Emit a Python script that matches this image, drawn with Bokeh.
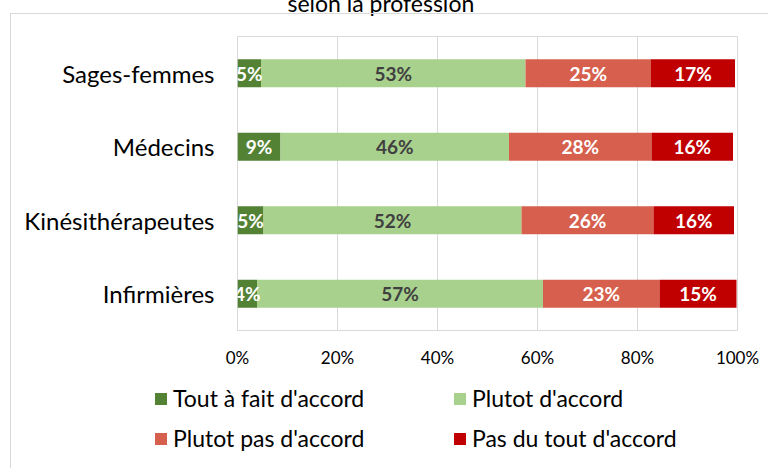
from bokeh.plotting import figure
from bokeh.layouts import column
from bokeh.models import (ColumnDataSource, FactorRange, Range1d, Legend, LegendItem,
                          FixedTicker, PrintfTickFormatter, InlineStyleSheet)
from bokeh.core.properties import value
from bokeh.embed import file_html
from bokeh.resources import INLINE

# ---- data (bottom to top) ----
professions = ["Infirmières", "Kinésithérapeutes", "Médecins", "Sages-femmes"]
series_names = ["Tout à fait d'accord", "Plutot d'accord", "Plutot pas d'accord", "Pas du tout d'accord"]
tout_a_fait = [3.9, 5.2, 8.6, 4.7]
plutot = [57.2, 51.6, 45.7, 52.9]
plutot_pas = [23.3, 26.4, 28.5, 25.1]
pas_du_tout = [15.4, 16.1, 16.3, 16.8]
x_ticks = [0, 20, 40, 60, 80, 100]
title_text = "selon la profession"

colors = ["#548235", "#A9D18E", "#D6604D", "#C00000"]
label_colors = ["#FFFFFF", "#404040", "#FFFFFF", "#FFFFFF"]
FONT = "Lato"

keys = ["s0", "s1", "s2", "s3"]
series_vals = [tout_a_fait, plutot, plutot_pas, pas_du_tout]
data = {"prof": professions}
for k, v in zip(keys, series_vals):
    data[k] = v
source = ColumnDataSource(data)

SHIFT = 40  # part of the top that lies above the window (title cut off as in the reference)

p = figure(width=768, height=370 + SHIFT, y_range=FactorRange(*professions), x_range=Range1d(0, 100),
           output_backend="svg", toolbar_location=None,
           min_border_left=237, min_border_right=31, min_border_top=36 + SHIFT, min_border_bottom=36)
p.styles = {"margin-top": f"-{SHIFT}px"}
p.frame_align = False
p.background_fill_color = "white"
p.border_fill_color = "white"
p.outline_line_color = "#D9D9D9"
p.outline_line_width = 1

p.title.text = title_text
p.title.text_font = FONT
p.title.text_font_size = "23px"
p.title.text_font_style = "normal"
p.title.text_color = "#000000"
p.title.align = "left"
p.title.offset = 50
p.title.standoff = 39

p.hbar_stack(keys, y="prof", height=0.38, color=colors, line_color=None, source=source)

# bar labels
for i, (k, vals) in enumerate(zip(keys, series_vals)):
    centers = []
    for j in range(len(professions)):
        left = sum(series_vals[m][j] for m in range(i))
        centers.append(left + vals[j] / 2)
    src = ColumnDataSource(dict(x=centers, y=professions, t=[f"{round(v)}%" for v in vals]))
    p.text(x="x", y="y", text="t", source=src, text_align="center", text_baseline="middle",
           text_font=value(FONT), text_font_style="bold", text_font_size="19px",
           text_color=label_colors[i])

# axes
p.xaxis.ticker = FixedTicker(ticks=x_ticks)
p.xaxis.formatter = PrintfTickFormatter(format="%d%%")
p.xaxis.axis_line_color = None
p.xaxis.major_tick_line_color = None
p.xaxis.minor_tick_line_color = None
p.xaxis.major_tick_out = 0
p.xaxis.major_label_standoff = 16
p.xaxis.major_label_text_font = FONT
p.xaxis.major_label_text_font_size = "17px"
p.xaxis.major_label_text_color = "#000000"

p.yaxis.axis_line_color = None
p.yaxis.major_tick_line_color = None
p.yaxis.minor_tick_line_color = None
p.yaxis.major_tick_out = 0
p.yaxis.major_label_standoff = 23
p.yaxis.major_label_text_font = FONT
p.yaxis.major_label_text_font_size = "24px"
p.yaxis.major_label_text_color = "#000000"

p.xgrid.grid_line_color = "#D9D9D9"
p.ygrid.grid_line_color = None

# legend area (own figure, same series colours; swatch bars have no extent)
pl = figure(width=768, height=98, output_backend="svg", toolbar_location=None,
            x_range=Range1d(0, 1), y_range=Range1d(0, 1),
            x_axis_location=None, y_axis_location=None,
            min_border_left=0, min_border_right=0, min_border_top=0, min_border_bottom=0)
pl.frame_align = False
pl.outline_line_color = None
pl.grid.visible = False
pl.background_fill_color = "white"
pl.border_fill_color = "white"
leg_renderers = [pl.hbar(y=[-5], left=[0], right=[0], height=0, color=c, line_color=None)
                 for c in colors]
items = [LegendItem(label=n, renderers=[r]) for n, r in zip(series_names, leg_renderers)]
items = [items[0], items[2], items[1], items[3]]  # legend fills column by column
legend = Legend(items=items, ncols=2, location=(153, 13), padding=0, margin=0, spacing=6,
                glyph_width=15, glyph_height=15, label_standoff=5, label_width=273, label_height=34,
                label_text_font=FONT, label_text_font_size="23px", label_text_color="#000000",
                border_line_color=None, background_fill_alpha=0)
pl.add_layout(legend, "center")

border_css = InlineStyleSheet(css="""
:host { position: relative; }
:host::after { content: ""; position: absolute; left: 10px; top: 13px; right: 0; bottom: 0;
  border-left: 1px solid #D9D9D9; border-top: 1px solid #D9D9D9; pointer-events: none; }
""")
root = column(p, pl, spacing=0, stylesheets=[border_css])

open("out.html", "w").write(file_html(root, INLINE))
